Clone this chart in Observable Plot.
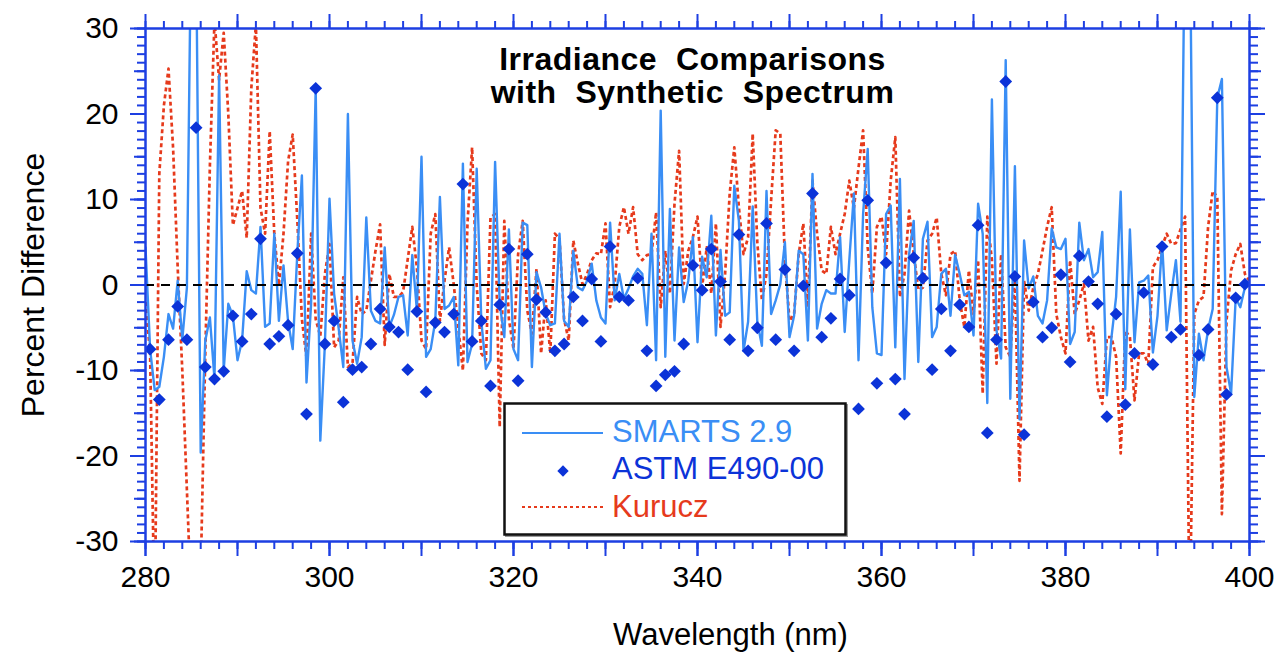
<!DOCTYPE html>
<html>
<head>
<meta charset="utf-8">
<script src="https://cdn.jsdelivr.net/npm/d3@7"></script>
<script src="https://cdn.jsdelivr.net/npm/@observablehq/plot@0.6"></script>
<style>
  html, body { margin: 0; padding: 0; background: #fff; }
  #wrap { position: relative; width: 1278px; height: 652px; overflow: hidden; font-family: "Liberation Sans", Arial, Helvetica, sans-serif; }
  #legend { position: absolute; left: 503px; top: 402px; }
</style>
</head>
<body>
<div id="wrap"></div>
<script>
// SMARTS 2.9, percent difference, 280–400 nm every 0.5 nm
const smarts = [
  4.4, -7.5, -12.3, -11.9, -8.4, -3.4, -5.1, 0.5, -6.4, -0.3,
  45, 40, -19.6, -6.5, -3.8, -11.0, 24.5, -10.0, -2.2, -3.6,
  -8.8, -6.5, 1.6, -0.6, -1.0, 6.8, -4.9, -4.5, 6.0, -4.2,
  2.3, -4.3, -7.5, 3.7, 12.8, -11.4, -2.2, 23.0, -18.2, -6.9,
  10.1, -1.0, -5.1, -9.6, 20.0, -6.5, -9.2, -6.1, 7.9, -3.0,
  -4.2, -4.5, 4.4, -4.9, -3.5, -1.4, -1.2, -5.9, 3.5, -3.0,
  15.0, -8.4, -7.5, -4.2, 10.3, -2.8, -2.4, -1.4, -9.4, 14.2,
  -9.0, -6.9, 13.6, -4.2, -9.8, -8.8, 14.4, -2.2, -6.1, 6.5,
  -7.5, -8.8, 7.3, 7.0, -9.6, 1.5, -0.3, -3.4, -4.7, -4.5,
  6.0, -4.2, -4.9, 4.0, -0.3, -0.6, 0.5, 2.5, -1.8, -3.8,
  -4.5, 7.3, -1.8, 1.3, -1.6, -0.4, 1.0, 1.9, 1.3, -4.7,
  6.0, -8.8, 20.4, -8.4, 8.9, -6.5, 4.4, -2.0, 0.5, 5.6,
  -6.7, 3.3, 0.9, 8.1, -5.9, 4.1, -3.6, -3.2, 11.6, 7.5,
  -7.7, -4.3, 9.2, -4.3, -7.1, 11.0, -3.4, -1.8, 0.1, 5.0,
  -6.1, -3.6, 4.0, 3.6, -6.5, 13.0, -5.1, -2.2, -0.6, -1.0,
  -1.0, 5.6, -5.5, 2.9, 10.7, -8.8, 8.3, 15.9, -2.6, -8.0,
  -8.2, 8.3, 9.3, -7.3, 12.4, -11.0, 3.6, 7.5, -9.0, 5.4,
  7.4, -6.1, -4.9, 1.3, 1.9, -3.6, 3.5, 1.3, -1.2, -0.8,
  -5.9, 9.5, 6.0, -13.8, 21.7, -5.3, -8.6, 26.3, -13.3, 13.9,
  -15.7, 5.2, -0.4, 1.0, -3.6, -4.5, -1.8, 6.6, 4.4, 4.2,
  5.4, -6.9, -5.5, 7.3, 2.9, 4.2, 0.9, 1.5, 6.2, -12.9,
  -6.1, -1.4, 10.9, -12.2, 6.5, -6.7, 0.3, 0.5, 1.1, -7.9,
  -3.6, 5.0, -5.3, -1.0, 2.9, -4.3, 45, 45, -13.1, -5.7,
  -8.8, -5.2, -2.8, 21.9, 24.1, -9.6, -12.7, -1.5, -2.6, -0.3,
  0.1
];

// Kurucz, percent difference, 280–400 nm every 0.5 nm
const kurucz = [
  -2, -8, -40, 13, 21, 25.3, 16, 2, -10, -24,
  -38, -40, -34, -8, 14, 31, 24, 29.5, 20, 7,
  9, 11, 5.5, 23, 30.5, 9, 6, 18, 6, 0,
  6, 14.5, 17.6, 7.6, -4, -8.5, 6, -4, -6, 1.3,
  4.8, -7.3, -6.5, 0.9, -9.6, -9.2, -1.4, -3.4, -3.0, 0.5,
  4, 7.1, -7, 1.3, -1.4, -1.4, -0.8, 3, 6.8, 2,
  -6.5, -7.5, 6, 8.3, -4.2, 0.5, 4.4, 0.1, -5, -10,
  7.2, 16.1, 0, -8, -8.8, 7.9, 8.3, -16.6, 7.5, -4,
  -7.5, 3.6, 7.5, -3, -5.7, 1.9, -8, -1.8, -8, 6,
  5.4, -4, -6.5, 5.2, 2.5, 0.1, 1.3, 2.9, 3.7, 3.6,
  7.2, -2.6, 0.1, 6.8, 9.1, 6, 9.1, 3.6, 2.9, 3.5,
  3.6, 8.5, -2.6, 4, -1, 9.5, 15.7, 0.1, 4, 5.6,
  8, -0.3, 4.4, -1, 7.2, -4.9, 1.3, 10.7, 16.1, 9.1,
  3.6, 5.6, 17.7, 5, -1.8, 1.3, 9.9, 18.1, 17.7, 3,
  -4.2, -3.4, 3.6, 7.2, -2.6, 12.2, 6, 1.7, 1.3, 6.8,
  3.6, 6, 8.3, 12.2, 9, 13.7, 18.1, 4.4, -1, 6.8,
  8, 3.6, 12.2, 17.3, -1.4, 1.3, 8.7, 3.7, -0.6, -0.3,
  5.2, 6, 7.9, 1.3, -1.2, 3.6, 4, -1.8, -4.9, 1.7,
  -3.4, 2.9, -12.7, 8, 2.9, -9.2, 3.6, -7.3, -8.4, 1,
  -22.9, 0.5, -3, -0.3, 1.3, 4, 6.8, 9.1, -3.4, -6.1,
  -8, 2.9, -3.4, -1.8, 0.1, -6.5, -4.9, -12, -13.9, -6.1,
  -6.1, -8.4, -19.7, -5.3, -6.1, -13.5, -8, -8, -9.2, 2.1,
  2.9, 4.5, 6, 4.8, 4.9, 6.5, 8, -40, -3.4, -1.8,
  -1.4, 6.8, 11, 10.3, -26.8, -4.2, 1.7, 3.6, 4.8, 1.3,
  0.5
];

// ASTM E490-00, percent difference, 280.5–399.5 nm every 1 nm
const astm = [
  -7.5, -13.4, -6.4, -2.5, -6.4, 18.4, -9.6, -11.0, -10.1, -3.6,
  -6.6, -3.4, 5.4, -6.9, -6.0, -4.7, 3.7, -15.1, 23.0, -6.9,
  -4.2, -13.7, -9.9, -9.6, -6.9, -2.8, -4.9, -5.5, -9.9, -3.1,
  -12.5, -4.4, -5.5, -3.4, 11.8, -6.6, -4.2, -11.8, -2.3, 4.2,
  -11.2, 3.6, -1.7, -3.2, -7.7, -6.9, -1.4, -4.2, 0.7, -6.6,
  4.5, -1.4, -1.8, 0.8, -7.7, -11.8, -10.5, -10.1, -6.9, 2.3,
  -0.6, 4.2, 0.4, -6.4, 5.9, -7.7, -5.0, 7.2, -6.4, 1.8,
  -7.7, -0.1, 10.7, -6.1, -3.9, 0.7, -1.2, -14.5, 9.9, -11.5,
  2.6, -11.0, -15.1, 3.2, 0.8, -9.9, -2.8, -7.7, -2.3, -4.9,
  7.0, -17.3, -6.4, 23.8, 1.0, -17.5, -2.0, -6.1, -5.0, 1.2,
  -9.0, 3.4, 0.4, -2.2, -15.4, -3.4, -14.0, -8.0, -0.9, -9.3,
  4.5, -6.1, -5.2, 35, -8.2, -5.2, 21.9, -12.8, -1.5, 0.1
];

const xTicksMinor = d3.range(280, 401, 2);
const xTicksMid = d3.range(280, 401, 10);
const xTicksLabel = d3.range(280, 401, 20);
const yTicksMinor = d3.range(-30, 31, 1);
const yTicksMid = d3.range(-30, 31, 5);
const yTicksLabel = d3.range(-30, 31, 10);

const seriesNames = ["SMARTS 2.9", "ASTM E490-00", "Kurucz"];
const titleText = "Irradiance\u00a0 Comparisons\nwith\u00a0 Synthetic\u00a0 Spectrum";
const xLabel = "Wavelength (nm)";
const yLabel = "Percent Difference";

const frameBlue = "#1d3fe2";
const smartsBlue = "#3a8ef5";
const astmBlue = "#0b33d8";
const kuruczRed = "#e63a1c";

const grid = d3.range(0, smarts.length).map(i => 280 + i * 0.5);
const smartsData = grid.map((w, i) => ({wl: w, v: smarts[i]}));
const kuruczData = grid.map((w, i) => ({wl: w, v: kurucz[i]}));
const astmData = astm.map((v, i) => ({wl: 280.5 + i, v}));

const font = '"Liberation Sans", Arial, Helvetica, sans-serif';
const noText = () => "";

const axisCommon = {stroke: frameBlue, strokeWidth: 2, label: null};

const chart = Plot.plot({
  width: 1278,
  height: 652,
  marginLeft: 145,
  marginRight: 29,
  marginTop: 28,
  marginBottom: 111,
  style: {fontFamily: font, background: "white", color: "black"},
  x: {domain: [280, 400], label: null},
  y: {domain: [-30, 30], label: null},
  marks: [
    Plot.line(kuruczData, {x: "wl", y: "v", stroke: kuruczRed, strokeWidth: 2.7, strokeDasharray: "4,3", strokeLinecap: "butt", clip: true}),
    Plot.line(smartsData, {x: "wl", y: "v", stroke: smartsBlue, strokeWidth: 2.4, clip: true}),
    Plot.ruleY([0], {stroke: "black", strokeWidth: 2, strokeDasharray: "9,7"}),
    Plot.dot(astmData, {x: "wl", y: "v", symbol: "square", rotate: 45, r: 5.1, fill: astmBlue, clip: true}),
    Plot.frame({stroke: frameBlue, strokeWidth: 2.5}),
    // bottom axis
    Plot.axisX({...axisCommon, anchor: "bottom", ticks: xTicksMinor, tickSize: 8, tickFormat: noText}),
    Plot.axisX({...axisCommon, anchor: "bottom", ticks: xTicksMid, tickSize: 15, tickFormat: noText}),
    Plot.axisX({...axisCommon, anchor: "bottom", ticks: xTicksLabel, tickSize: 15, tickPadding: 9, tickFormat: d => String(d), fill: "black", fontSize: 30}),
    // top axis
    Plot.axisX({...axisCommon, anchor: "top", ticks: xTicksMinor, tickSize: 8, tickFormat: noText}),
    Plot.axisX({...axisCommon, anchor: "top", ticks: xTicksMid, tickSize: 15, tickFormat: noText}),
    // left axis
    Plot.axisY({...axisCommon, anchor: "left", ticks: yTicksMinor, tickSize: 8, tickFormat: noText}),
    Plot.axisY({...axisCommon, anchor: "left", ticks: yTicksMid, tickSize: 11, tickFormat: noText}),
    Plot.axisY({...axisCommon, anchor: "left", ticks: yTicksLabel, tickSize: 15, tickPadding: 12, tickFormat: d => String(d), fill: "black", fontSize: 30}),
    // right axis
    Plot.axisY({...axisCommon, anchor: "right", ticks: yTicksMinor, tickSize: 8, tickFormat: noText}),
    Plot.axisY({...axisCommon, anchor: "right", ticks: yTicksMid, tickSize: 11, tickFormat: noText}),
    Plot.axisY({...axisCommon, anchor: "right", ticks: yTicksLabel, tickSize: 15, tickFormat: noText}),
    // axis titles
    Plot.text([yLabel], {text: d => d, frameAnchor: "left", textAnchor: "middle", rotate: -90, dx: -112, fontSize: 32, fill: "black"}),
    Plot.text([xLabel], {text: d => d, frameAnchor: "bottom", dx: 33, dy: 103, fontSize: 31, fill: "black"}),
    // title
    Plot.text([titleText], {text: d => d, frameAnchor: "top", lineAnchor: "top", dx: -5, dy: 18, fontSize: 32, fontWeight: "bold", lineHeight: 1.03, fill: "black"})
  ]
});

d3.select(chart).selectAll("text")
  .filter(function() { return this.textContent.includes("Irradiance"); })
  .attr("letter-spacing", "0.5px");

const wrap = document.getElementById("wrap");
wrap.appendChild(chart);

// Legend box (inside the plot area, lower middle)
const lg = d3.select(wrap).append("svg")
  .attr("id", "legend")
  .attr("width", 348)
  .attr("height", 140)
  .style("font-family", font);
lg.append("rect").attr("x", 3).attr("y", 3).attr("width", 341).attr("height", 131)
  .attr("fill", "none").attr("stroke", "#9a9a9a").attr("stroke-width", 2);
lg.append("rect").attr("x", 1.5).attr("y", 1.5).attr("width", 341).attr("height", 131)
  .attr("fill", "white").attr("stroke", "#111").attr("stroke-width", 2.5);
lg.append("line").attr("x1", 19).attr("x2", 100).attr("y1", 31).attr("y2", 31)
  .attr("stroke", smartsBlue).attr("stroke-width", 2);
lg.append("text").attr("x", 109).attr("y", 40).attr("font-size", 31).attr("fill", smartsBlue).text(seriesNames[0]);
lg.append("rect").attr("x", -4).attr("y", -4).attr("width", 8).attr("height", 8)
  .attr("transform", "translate(60,69) rotate(45)").attr("fill", astmBlue);
lg.append("text").attr("x", 109).attr("y", 77).attr("font-size", 31).attr("fill", astmBlue).text(seriesNames[1]);
lg.append("line").attr("x1", 19).attr("x2", 100).attr("y1", 105).attr("y2", 105)
  .attr("stroke", kuruczRed).attr("stroke-width", 2).attr("stroke-dasharray", "3,3");
lg.append("text").attr("x", 109).attr("y", 115).attr("font-size", 31).attr("fill", kuruczRed).text(seriesNames[2]);
</script>
</body>
</html>
